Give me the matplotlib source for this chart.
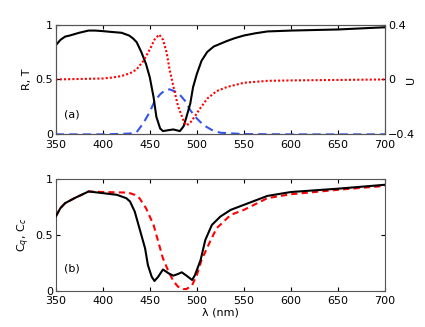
import numpy as np
import matplotlib
matplotlib.use("Agg")
import matplotlib.pyplot as plt

# Panel (a): R (black), T (blue dashed), U (red dotted, right axis)
lam_r = [350, 355, 360, 365, 375, 385, 392, 400, 410, 420, 428, 432, 436, 441, 446,
         450, 454, 457, 461, 464, 471, 475, 482, 486, 489, 493, 496, 500, 505, 511,
         518, 525, 532, 540, 550, 562, 575, 600, 650, 700]
R = [0.81, 0.86, 0.89, 0.90, 0.925, 0.945, 0.945, 0.94, 0.932, 0.925, 0.90, 0.875,
     0.84, 0.75, 0.64, 0.52, 0.34, 0.16, 0.054, 0.03, 0.04, 0.045, 0.03, 0.075, 0.16,
     0.28, 0.43, 0.55, 0.67, 0.75, 0.80, 0.825, 0.85, 0.875, 0.90, 0.92, 0.937,
     0.945, 0.955, 0.975]

lam_t = [350, 400, 420, 429, 436, 443, 450, 455, 461, 466, 471, 477, 482, 488, 493,
         500, 507, 516, 525, 550, 600, 700]
T = [0.0, 0.0, 0.005, 0.008, 0.02, 0.10, 0.205, 0.30, 0.365, 0.40, 0.41, 0.39, 0.36,
     0.30, 0.22, 0.145, 0.085, 0.04, 0.015, 0.003, 0.0, 0.0]

lam_u = [350, 400, 410, 420, 429, 436, 443, 450, 455, 460, 464, 468, 471, 475, 480,
         486, 489, 493, 498, 504, 511, 521, 532, 550, 575, 600, 700]
U = [0.0, 0.007, 0.014, 0.025, 0.045, 0.073, 0.133, 0.218, 0.29, 0.327, 0.29, 0.194,
     0.073, -0.049, -0.194, -0.303, -0.335, -0.315, -0.267, -0.206, -0.14, -0.085,
     -0.055, -0.024, -0.01, -0.007, 0.0]

# Panel (b): Cq (black), Cc (red dashed)
lam_q = [350, 355, 360, 370, 385, 400, 415, 425, 429, 434, 439, 445, 448, 452, 455,
         459, 464, 470, 475, 480, 484, 489, 495, 498, 504, 509, 516, 525, 536, 550,
         575, 600, 650, 700]
Cq = [0.665, 0.74, 0.785, 0.83, 0.89, 0.875, 0.86, 0.83, 0.80, 0.71, 0.56, 0.38,
      0.23, 0.126, 0.087, 0.126, 0.19, 0.156, 0.135, 0.15, 0.165, 0.135, 0.096, 0.14,
      0.275, 0.455, 0.59, 0.665, 0.725, 0.77, 0.85, 0.885, 0.915, 0.95]

lam_c = [350, 355, 360, 370, 385, 400, 425, 429, 434, 439, 446, 454, 459, 464, 470,
         475, 480, 486, 489, 495, 500, 505, 514, 521, 536, 550, 575, 600, 650, 700]
Cc = [0.665, 0.74, 0.785, 0.83, 0.89, 0.885, 0.88, 0.874, 0.86, 0.83, 0.74, 0.59,
      0.44, 0.29, 0.17, 0.087, 0.036, 0.015, 0.015, 0.05, 0.14, 0.275, 0.44, 0.56,
      0.68, 0.725, 0.83, 0.865, 0.905, 0.94]

plt.rcParams["font.size"] = 8
plt.rcParams["font.family"] = ["DejaVu Sans"]

fig = plt.figure(figsize=(4.25, 3.27), dpi=100)
ax1 = fig.add_axes([0.131, 0.589, 0.775, 0.336])
ax2 = fig.add_axes([0.131, 0.111, 0.775, 0.341])

spine_col = "#555555"

def style(ax):
    ax.set_xlim(350, 700)
    ax.set_ylim(0, 1)
    ax.set_xticks(np.arange(350, 701, 50))
    ax.set_yticks([0, 0.5, 1])
    ax.set_yticklabels(["0", "0.5", "1"])
    ax.tick_params(direction="in", length=3, colors="black", pad=2)
    ax.tick_params(axis="x", pad=4)
    for s in ax.spines.values():
        s.set_color(spine_col)
        s.set_linewidth(0.8)

style(ax1)
ax1.tick_params(top=True)
ax1.plot(lam_r, R, color="black", lw=1.5, zorder=3)
ax1.plot(lam_t, T, color="#3355ee", lw=1.5, ls=(0, (4, 2.5)), zorder=2)
ax1.set_ylabel("R, T", labelpad=2)
ax1.text(359, 0.18, "(a)", va="center")

ax1r = ax1.twinx()
ax1r.set_ylim(-0.4, 0.4)
ax1r.set_yticks([-0.4, 0, 0.4])
ax1r.set_yticklabels(["\u22120.4", "0", "0.4"])
ax1r.tick_params(direction="in", length=3, pad=2)
for s in ax1r.spines.values():
    s.set_color(spine_col)
    s.set_linewidth(0.8)
ax1r.plot(lam_u, U, color="red", lw=1.5, ls=(0, (1, 1)))
# right-hand label placed by hand so it stays inside the figure
ax1r.text(1.08, 0.5, "U", rotation=90, ha="center", va="center",
          transform=ax1r.transAxes)

style(ax2)
ax2.tick_params(top=True, right=True)
ax2.plot(lam_q, Cq, color="black", lw=1.5, zorder=3)
ax2.plot(lam_c, Cc, color="red", lw=1.5, ls=(0, (3, 2)), zorder=2)
ax2.set_ylabel("C$_q$, C$_c$", labelpad=2)
ax2.set_xlabel("\u03bb (nm)", labelpad=1)
ax2.text(359, 0.2, "(b)", va="center")

fig.savefig("out.png", dpi=100)
